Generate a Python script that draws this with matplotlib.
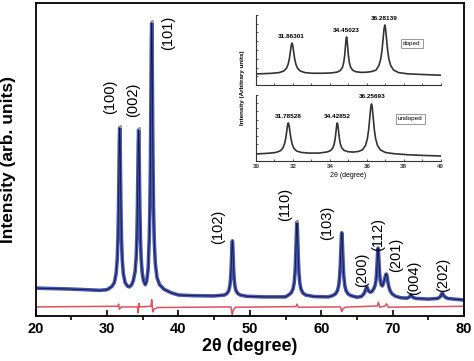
import matplotlib

matplotlib.use("Agg")
import matplotlib.pyplot as plt
from matplotlib.ticker import MultipleLocator, NullFormatter

plt.rcParams["font.family"] = ["Liberation Sans", "DejaVu Sans"]

two_theta = [
    20.0, 25.0, 29.0, 30.0, 30.67, 31.02, 31.27, 31.42, 31.52, 31.6, 31.67, 31.72,
    31.77, 31.82, 31.87, 31.94, 32.02, 32.12, 32.27, 32.52, 32.87, 33.15, 33.45, 33.67,
    33.92, 34.07, 34.17, 34.25, 34.32, 34.37, 34.42, 34.47, 34.52, 34.59, 34.67, 34.77,
    34.92, 35.1, 35.35, 35.55, 35.75, 35.9, 36.0, 36.08, 36.15, 36.2, 36.25, 36.3,
    36.35, 36.42, 36.5, 36.6, 36.75, 37.0, 37.35, 38.0, 39.0, 40.0, 42.0, 45.0,
    46.45, 46.8, 47.05, 47.2, 47.3, 47.38, 47.45, 47.5, 47.55, 47.6, 47.65, 47.72,
    47.8, 47.9, 48.05, 48.3, 48.65, 49.5, 52.0, 55.0, 55.4, 55.8, 56.05, 56.2,
    56.32, 56.41, 56.5, 56.55, 56.6, 56.65, 56.7, 56.79, 56.88, 57.0, 57.15, 57.4,
    57.8, 59.0, 61.0, 61.57, 61.97, 62.27, 62.45, 62.57, 62.67, 62.77, 62.82, 62.87,
    62.92, 62.97, 63.07, 63.17, 63.29, 63.47, 63.77, 64.17, 65.0, 65.6, 65.95, 66.15,
    66.3, 66.38, 66.46, 66.62, 66.85, 67.1, 67.35, 67.54, 67.66, 67.76, 67.86, 67.91,
    67.96, 68.01, 68.06, 68.16, 68.26, 68.4, 68.55, 68.7, 68.85, 68.98, 69.05, 69.1,
    69.15, 69.22, 69.32, 69.45, 69.65, 69.95, 70.4, 71.2, 72.0, 72.3, 72.45, 72.56,
    72.67, 72.85, 73.3, 75.0, 76.3, 76.7, 76.85, 76.95, 77.05, 77.25, 77.7, 80.0,
]
intensity = [
    89, 86, 82, 84, 94, 107, 136, 181, 246, 342, 468, 559,
    601, 559, 468, 342, 246, 181, 136, 107, 95, 93, 100, 113,
    141, 185, 248, 342, 465, 554, 595, 554, 465, 342, 248, 183,
    138, 113, 100, 112, 150, 243, 350, 508, 716, 868, 936, 868,
    716, 508, 350, 243, 169, 122, 100, 85, 74, 67, 65, 64,
    67, 72, 81, 97, 119, 151, 194, 226, 240, 226, 194, 151,
    119, 97, 81, 72, 67, 63, 61, 61, 67, 74, 87, 105,
    136, 180, 248, 284, 300, 284, 248, 180, 136, 105, 87, 74,
    67, 62, 61, 65, 70, 81, 98, 124, 163, 225, 254, 266,
    254, 225, 163, 124, 98, 81, 70, 65, 60, 62, 70, 80,
    90, 93, 90, 80, 76, 78, 87, 98, 112, 140, 186, 208,
    217, 208, 186, 140, 114, 100, 96, 103, 116, 128, 133, 134,
    133, 126, 110, 95, 80, 70, 63, 58, 57, 60, 64, 67,
    64, 59, 56, 54, 56, 62, 70, 73, 70, 62, 56, 51,
]

# difference curve (obs - calc), offset below the pattern
diff_theta = [
    20.0, 31.5, 31.62, 31.72, 31.85, 32.0, 34.25, 34.36, 34.46, 34.6, 36.15, 36.25,
    36.4, 36.6, 37.1, 47.35, 47.52, 47.7, 48.0, 56.45, 56.6, 56.8, 62.7, 62.88,
    63.05, 63.35, 67.85, 68.0, 68.2, 68.95, 69.15, 69.4, 80.0,
]
diff_int = [
    29, 31, 38, 22, 25, 29, 29, 10, 40, 29, 31, 52,
    13, 22, 27, 29, 4, 20, 28, 30, 38, 28, 29, 14,
    23, 28, 32, 44, 28, 32, 39, 28, 31,
]

# observed maxima shown as grey dots
top_theta = [31.77, 34.42, 36.25, 56.6]
top_int = [607, 601, 942, 305]

# Miller indices and label anchors
hkl = ["(100)", "(002)", "(101)", "(102)", "(110)", "(103)",
       "(200)", "(112)", "(201)", "(004)", "(202)"]
hkl_x = [30.4, 33.6, 38.5, 45.5, 54.9, 60.8, 65.7, 67.9, 70.5, 73.0, 77.0]
hkl_y = [700, 690, 904, 284, 355, 297, 147, 259, 195, 121, 131]

# ---- inset: doped ----
doped_theta = [
    30.0, 30.85, 31.25, 31.5, 31.65, 31.74, 31.81, 31.87, 31.91, 31.95, 31.99, 32.03,
    32.09, 32.16, 32.25, 32.4, 32.65, 33.05, 33.6, 34.1, 34.4, 34.57, 34.68, 34.75,
    34.8, 34.84, 34.87, 34.9, 34.93, 34.96, 35.0, 35.05, 35.12, 35.23, 35.4, 35.7,
    36.0, 36.25, 36.49, 36.65, 36.75, 36.82, 36.89, 36.93, 36.97, 37.01, 37.05, 37.12,
    37.19, 37.29, 37.45, 37.72, 38.2, 39.0, 40.0,
]
doped_int = [
    0.158, 0.167, 0.177, 0.199, 0.239, 0.296, 0.38, 0.492, 0.567, 0.60, 0.567, 0.492,
    0.38, 0.296, 0.239, 0.199, 0.177, 0.168, 0.168, 0.173, 0.185, 0.209, 0.254, 0.325,
    0.425, 0.547, 0.642, 0.686, 0.642, 0.547, 0.425, 0.325, 0.254, 0.212, 0.19, 0.18,
    0.183, 0.192, 0.212, 0.276, 0.372, 0.50, 0.695, 0.804, 0.857, 0.804, 0.695, 0.50,
    0.372, 0.276, 0.212, 0.177, 0.16, 0.15, 0.14,
]
doped_peaks = ["31.86301", "34.45023", "36.28139"]
doped_lx = [31.93, 34.9, 36.93]
doped_ly = [0.69, 0.776, 0.95]

# ---- inset: undoped ----
undoped_theta = [
    30.0, 30.65, 31.05, 31.3, 31.45, 31.54, 31.61, 31.67, 31.71, 31.75, 31.79, 31.83,
    31.89, 31.96, 32.05, 32.2, 32.45, 32.85, 33.4, 33.85, 34.04, 34.16, 34.235, 34.29,
    34.34, 34.37, 34.4, 34.43, 34.46, 34.51, 34.565, 34.64, 34.76, 34.95, 35.25, 35.55,
    35.77, 35.93, 36.03, 36.1, 36.17, 36.21, 36.25, 36.29, 36.33, 36.4, 36.47, 36.57,
    36.73, 37.0, 37.45, 38.2, 39.0, 40.0,
]
undoped_int = [
    0.106, 0.117, 0.128, 0.151, 0.193, 0.254, 0.343, 0.461, 0.541, 0.576, 0.541, 0.461,
    0.343, 0.254, 0.193, 0.151, 0.13, 0.12, 0.12, 0.137, 0.159, 0.199, 0.26, 0.348,
    0.471, 0.544, 0.576, 0.544, 0.471, 0.348, 0.26, 0.2, 0.162, 0.142, 0.135, 0.145,
    0.17, 0.238, 0.342, 0.482, 0.695, 0.814, 0.864, 0.814, 0.695, 0.482, 0.342, 0.238,
    0.168, 0.129, 0.111, 0.095, 0.085, 0.076,
]
undoped_peaks = ["31.78528", "34.42852", "36.25693"]
undoped_lx = [31.75, 34.4, 36.27]
undoped_ly = [0.67, 0.67, 0.97]

BLUE = "#4656b4"
RED = "#e0505c"
INSET = "#333333"

fig = plt.figure(figsize=(4.74, 3.61), dpi=100)

# main axes
ax = fig.add_axes([0.0753, 0.1247, 0.9037, 0.867])
ax.plot(two_theta, intensity, color=BLUE, linewidth=2.6, solid_joinstyle="round")
ax.plot(two_theta, intensity, color="#151535", linewidth=0.6)
ax.plot(diff_theta, diff_int, color=RED, linewidth=1.1)
ax.plot(top_theta, top_int, "o", color="#9a9a9a", markersize=2.2, markeredgewidth=0)

for lbl, x, y in zip(hkl, hkl_x, hkl_y):
    ax.text(x, y, lbl, rotation=90, ha="center", va="center", fontsize=10.5)

ax.set_xlim(20, 80)
ax.set_ylim(0, 1000)
ax.set_yticks([])
ax.xaxis.set_major_locator(MultipleLocator(10))
ax.xaxis.set_minor_locator(MultipleLocator(5))
ax.tick_params(axis="x", which="major", direction="in", length=4, width=1.2,
               labelsize=10.5, pad=4)
ax.tick_params(axis="x", which="minor", direction="out", length=3, width=1.2)
for t in ax.get_xticklabels():
    t.set_fontweight("bold")
for s in ax.spines.values():
    s.set_linewidth(1.3)
ax.set_xlabel("2θ (degree)", fontsize=13, fontweight="bold", labelpad=2)
ax.set_ylabel("Intensity (arb. units)", fontsize=12.5, fontweight="bold", labelpad=14)


# inset panels
def style_inset(a, show_labels):
    a.set_xlim(30, 40)
    a.set_ylim(0, 1)
    a.spines["top"].set_visible(False)
    a.spines["right"].set_visible(False)
    for s in ("left", "bottom"):
        a.spines[s].set_linewidth(0.8)
        a.spines[s].set_color(INSET)
    a.xaxis.set_major_locator(MultipleLocator(2))
    a.xaxis.set_minor_locator(MultipleLocator(1))
    a.yaxis.set_major_locator(MultipleLocator(0.125))
    a.yaxis.set_major_formatter(NullFormatter())
    a.tick_params(which="both", direction="in", length=1.5, width=0.6,
                  colors=INSET, labelsize=4.5, pad=2)
    if show_labels:
        for t in a.get_xticklabels():
            t.set_fontweight("bold")
    else:
        a.xaxis.set_major_formatter(NullFormatter())
    a.patch.set_alpha(0)


box = dict(boxstyle="square,pad=0.35", facecolor="white", edgecolor="#888888", linewidth=0.6)

ax_top = fig.add_axes([0.540, 0.7645, 0.390, 0.194])
ax_top.plot(doped_theta, doped_int, color=INSET, linewidth=1.2)
for lbl, x, y in zip(doped_peaks, doped_lx, doped_ly):
    ax_top.text(x, y, lbl, ha="center", va="center", fontsize=4.6, fontweight="bold")
ax_top.text(38.42, 0.596, "doped", ha="center", va="center", fontsize=4.6, bbox=box)
style_inset(ax_top, False)

ax_bot = fig.add_axes([0.540, 0.554, 0.390, 0.183])
ax_bot.plot(undoped_theta, undoped_int, color=INSET, linewidth=1.2)
for lbl, x, y in zip(undoped_peaks, undoped_lx, undoped_ly):
    ax_bot.text(x, y, lbl, ha="center", va="center", fontsize=4.6, fontweight="bold")
ax_bot.text(38.35, 0.636, "undoped", ha="center", va="center", fontsize=4.6, bbox=box)
style_inset(ax_bot, True)
ax_bot.set_xlabel("2θ (degree)", fontsize=5, labelpad=2)

fig.text(0.511, 0.756, "Intensity (Arbitrary units)", rotation=90, ha="center",
         va="center", fontsize=4.5, fontweight="bold")

fig.savefig("out.png", dpi=100)
